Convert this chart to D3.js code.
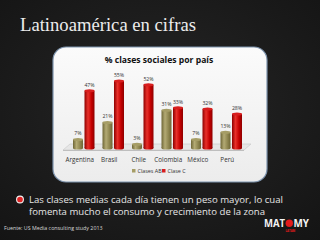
<!DOCTYPE html>
<html>
<head>
<meta charset="utf-8">
<script src="https://cdn.jsdelivr.net/npm/d3@7"></script>
<style>
  html, body { margin: 0; padding: 0; background: #1c1c1c; }
  svg { display: block; }
</style>
</head>
<body>
<svg id="slide" width="320" height="240"></svg>
<script>
// Data
const countries = ["Argentina", "Brasil", "Chile", "Colombia", "México", "Perú"];
const clasesAB = [7, 21, 3, 31, 7, 13];
const claseC = [47, 55, 52, 33, 32, 28];
const seriesNames = ["Clases AB", "Clase C"];

const svg = d3.select("#slide");
const W = 320, H = 240;

// Background
const defs = svg.append("defs");
const bg = defs.append("radialGradient").attr("id", "bg").attr("cx", "50%").attr("cy", "45%").attr("r", "75%");
bg.append("stop").attr("offset", "0%").attr("stop-color", "#262626");
bg.append("stop").attr("offset", "100%").attr("stop-color", "#141414");
svg.append("rect").attr("width", W).attr("height", H).attr("fill", "url(#bg)");

// Cylinder gradients
function cyl(id, dark, mid, light) {
    const g = defs.append("linearGradient").attr("id", id).attr("x1", "0%").attr("x2", "100%");
    g.append("stop").attr("offset", "0%").attr("stop-color", dark);
    g.append("stop").attr("offset", "35%").attr("stop-color", light);
    g.append("stop").attr("offset", "70%").attr("stop-color", mid);
    g.append("stop").attr("offset", "100%").attr("stop-color", dark);
}
cyl("gAB", "#6e6636", "#8f8650", "#b3aa74");
cyl("gC", "#8e0000", "#c40000", "#e8302a");

const cardGrad = defs.append("linearGradient").attr("id", "card").attr("x1", "0").attr("y1", "0").attr("x2", "0").attr("y2", "1");
cardGrad.append("stop").attr("offset", "0%").attr("stop-color", "#fbfbfb");
cardGrad.append("stop").attr("offset", "100%").attr("stop-color", "#ececec");

// Slide title
svg.append("text")
    .attr("x", 20).attr("y", 31)
    .attr("font-family", "'Liberation Serif', 'DejaVu Serif', serif")
    .attr("font-size", 18)
    .attr("textLength", 176).attr("lengthAdjust", "spacingAndGlyphs")
    .attr("fill", "#ececec")
    .text("Latinoamérica en cifras");

// Chart card
svg.append("rect")
    .attr("x", 53).attr("y", 47).attr("width", 214).attr("height", 135)
    .attr("rx", 13)
    .attr("fill", "url(#card)")
    .attr("stroke", "#7d93ad").attr("stroke-width", 1.2);

svg.append("text")
    .attr("x", 159).attr("y", 63)
    .attr("text-anchor", "middle")
    .attr("font-family", "'Open Sans', 'DejaVu Sans', sans-serif")
    .attr("font-weight", "bold")
    .attr("font-size", 8.6)
    .attr("fill", "#111")
    .text("% clases sociales por país");

// Scales
const baseY = 148;
const x = d3.scaleBand().domain(countries).range([65, 242]);
const y = d3.scaleLinear().domain([0, 60]).range([baseY, baseY - 73]);
const depth = 4;
const barW = 10, gap = 1.5;

// Floor
const fx0 = x.range()[0], fx1 = x.range()[1];
svg.append("path")
    .attr("d", `M${fx0 - 2},${baseY + 2} L${fx1 + 2},${baseY + 2} L${fx1 + 2 + 7},${baseY - 4} L${fx0 + 5},${baseY - 4} Z`)
    .attr("fill", "#e6e6e6").attr("stroke", "#c8c8c8").attr("stroke-width", 0.6);
svg.append("line")
    .attr("x1", fx0 - 2).attr("x2", fx1 + 2).attr("y1", baseY + 2.5).attr("y2", baseY + 2.5)
    .attr("stroke", "#b5b5b5").attr("stroke-width", 0.8);

// Bars
const series = [
    {name: seriesNames[0], values: clasesAB, fill: "url(#gAB)", top: "#a69d66", off: 0},
    {name: seriesNames[1], values: claseC, fill: "url(#gC)", top: "#d81e1e", off: barW + gap}
];

series.forEach(s => {
    const g = svg.append("g");
    const bx = (d, i) => x(countries[i]) + x.bandwidth() / 2 - (barW * 2 + gap) / 2 + depth + s.off;
    g.selectAll("rect")
        .data(s.values)
        .enter().append("rect")
        .attr("x", (d, i) => bx(d, i))
        .attr("y", d => y(d))
        .attr("width", barW)
        .attr("height", d => baseY - y(d))
        .attr("fill", s.fill);
    g.selectAll("ellipse.bot")
        .data(s.values)
        .enter().append("ellipse")
        .attr("class", "bot")
        .attr("cx", (d, i) => bx(d, i) + barW / 2)
        .attr("cy", baseY)
        .attr("rx", barW / 2).attr("ry", 1.5)
        .attr("fill", s.fill);
    g.selectAll("ellipse.top")
        .data(s.values)
        .enter().append("ellipse")
        .attr("class", "top")
        .attr("cx", (d, i) => bx(d, i) + barW / 2)
        .attr("cy", d => y(d))
        .attr("rx", barW / 2).attr("ry", 1.5)
        .attr("fill", s.top);
    g.selectAll("text")
        .data(s.values)
        .enter().append("text")
        .attr("x", (d, i) => bx(d, i) + barW / 2)
        .attr("y", d => y(d) - 4)
        .attr("text-anchor", "middle")
        .attr("font-family", "'Open Sans', 'DejaVu Sans', sans-serif")
        .attr("font-size", 5.2)
        .attr("fill", "#333")
        .text(d => d + "%");
});

// Category labels
svg.append("g").selectAll("text")
    .data(countries)
    .enter().append("text")
    .attr("x", d => x(d) + x.bandwidth() / 2)
    .attr("y", 162)
    .attr("text-anchor", "middle")
    .attr("font-family", "'Open Sans', 'DejaVu Sans', sans-serif")
    .attr("font-size", 6.3)
    .attr("fill", "#333")
    .text(d => d);

// Legend
const legend = svg.append("g").attr("font-family", "'Open Sans', 'DejaVu Sans', sans-serif").attr("font-size", 5.4).attr("fill", "#333");
const legendX = [132, 162];
series.forEach((s, i) => {
    legend.append("rect").attr("x", legendX[i]).attr("y", 169).attr("width", 3.5).attr("height", 3.5).attr("fill", s.top);
    legend.append("text").attr("x", legendX[i] + 5.5).attr("y", 172.5).text(s.name);
});

// Bullet text
svg.append("circle").attr("cx", 20).attr("cy", 199.5).attr("r", 3.4).attr("fill", "#e02424").attr("stroke", "#f2f2f2").attr("stroke-width", 1.1);
const bullet = svg.append("g")
    .attr("font-family", "'Open Sans', 'DejaVu Sans', sans-serif")
    .attr("font-size", 9.2)
    .attr("fill", "#e6e6e6");
bullet.append("text").attr("x", 29).attr("y", 202.5)
    .attr("textLength", 254).attr("lengthAdjust", "spacingAndGlyphs")
    .text("Las clases medias cada día tienen un peso mayor, lo cual");
bullet.append("text").attr("x", 29).attr("y", 215)
    .attr("textLength", 236).attr("lengthAdjust", "spacingAndGlyphs")
    .text("fomenta mucho el consumo y crecimiento de la zona");

// Source
svg.append("text")
    .attr("x", 4).attr("y", 230)
    .attr("font-family", "'Open Sans', 'DejaVu Sans', sans-serif")
    .attr("font-size", 5.3)
    .attr("fill", "#d8d8d8")
    .text("Fuente:  US Media consulting study 2013");

// Logo
const logo = svg.append("g").attr("font-family", "'Open Sans', 'DejaVu Sans', sans-serif").attr("font-weight", "bold").attr("fill", "#f4f4f4").attr("font-size", 10);
logo.append("text").attr("x", 264).attr("y", 227).attr("textLength", 21).attr("lengthAdjust", "spacingAndGlyphs").text("MAT");
logo.append("circle").attr("cx", 289.3).attr("cy", 223.3).attr("r", 3.7).attr("fill", "#e21b1b");
logo.append("text").attr("x", 293.5).attr("y", 227).attr("textLength", 15.5).attr("lengthAdjust", "spacingAndGlyphs").text("MY");
logo.append("text").attr("x", 285.5).attr("y", 232).attr("font-size", 2.8).attr("fill", "#e21b1b").text("LATAM");
</script>
</body>
</html>
